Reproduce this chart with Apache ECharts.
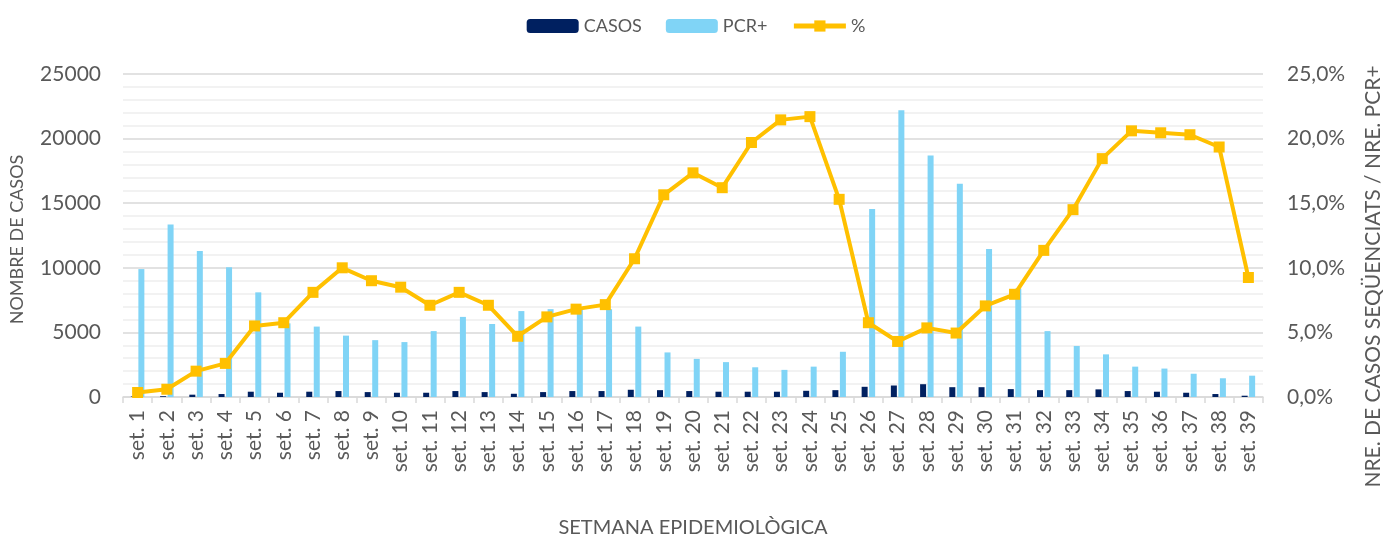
<!DOCTYPE html>
<html>
<head>
<meta charset="utf-8">
<script src="https://cdn.jsdelivr.net/npm/echarts@6/dist/echarts.min.js"></script>
<style>
html, body { margin: 0; padding: 0; background: #fff; }
#chart { width: 1392px; height: 543px; }
</style>
</head>
<body>
<div id="chart"></div>
<script>
// setmanes
var weeks = [];
for (var i = 1; i <= 39; i++) weeks.push('set. ' + i);

var casos = [40, 60, 180, 230, 410, 330, 410, 460, 380, 330, 330, 460, 380, 250, 380, 460, 460, 560, 530, 460,
	410, 410, 410, 480, 530, 790, 890, 990, 760, 760, 610, 530, 530, 590, 460, 410, 330, 230, 100];

var pcr = [9900, 13350, 11300, 10050, 8100, 5700, 5450, 4750, 4400, 4250, 5100, 6200, 5650, 6650, 6800, 6900, 6800, 5450, 3450, 2950,
	2700, 2300, 2100, 2350, 3500, 14550, 22200, 18700, 16500, 11450, 8400, 5100, 3950, 3300, 2350, 2200, 1800, 1450, 1650];

var pct = [0.35, 0.6, 2.0, 2.6, 5.5, 5.75, 8.1, 10.0, 9.0, 8.5, 7.1, 8.1, 7.1, 4.7, 6.2, 6.8, 7.15, 10.7, 15.65, 17.35,
	16.2, 19.7, 21.45, 21.7, 15.3, 5.75, 4.3, 5.35, 4.95, 7.05, 7.95, 11.35, 14.5, 18.45, 20.6, 20.45, 20.3, 19.35, 9.25];

var txt = '#595959';
var font = 'Lato, "Open Sans", sans-serif';

var chart = echarts.init(document.getElementById('chart'));
var option = {
	animation: false,
	textStyle: { fontFamily: font, color: txt },
	legend: {
		top: 12,
		left: 'center',
		itemWidth: 52,
		itemHeight: 14,
		itemGap: 24,
		textStyle: { fontSize: 18, color: txt, fontFamily: font },
		data: ['CASOS', 'PCR+', { name: '%', lineStyle: { width: 5 } }]
	},
	grid: { left: 122, right: 126, top: 74, bottom: 142 },
	xAxis: {
		type: 'category',
		data: weeks,
		name: 'SETMANA EPIDEMIOLÒGICA',
		nameLocation: 'middle',
		nameGap: 121,
		nameTextStyle: { fontSize: 20, color: txt },
		axisLine: { lineStyle: { color: '#d9d9d9', width: 1.5 } },
		axisTick: { show: true, length: 6, lineStyle: { color: '#d9d9d9', width: 1.5 } },
		axisLabel: { rotate: 90, fontSize: 21, color: txt, margin: 13, interval: 0 }
	},
	yAxis: [{
		type: 'value',
		min: 0,
		max: 25000,
		interval: 5000,
		name: 'NOMBRE DE CASOS',
		nameLocation: 'middle',
		nameRotate: 90,
		nameGap: 97,
		nameTextStyle: { fontSize: 18, color: txt, padding: [0, 8, 0, 0] },
		axisLine: { show: false },
		axisTick: { show: false },
		axisLabel: { fontSize: 21, color: txt, margin: 22, formatter: function(v) { return String(v); } },
		splitLine: { lineStyle: { color: '#d9d9d9', width: 1.5 } },
		minorTick: { show: false, splitNumber: 5 },
		minorSplitLine: { show: true, lineStyle: { color: '#eeeeee', width: 1.5 } }
	}, {
		type: 'value',
		min: 0,
		max: 25,
		interval: 5,
		name: 'NRE. DE CASOS SEQÜENCIATS / NRE. PCR+',
		nameLocation: 'middle',
		nameRotate: 90,
		nameGap: 100,
		nameTextStyle: { fontSize: 21, color: txt, padding: [0, 82, 0, 0] },
		axisLine: { show: false },
		axisTick: { show: false },
		splitLine: { show: false },
		axisLabel: {
			fontSize: 21, color: txt, margin: 24,
			formatter: function(v) { return v.toFixed(1).replace('.', ',') + '%'; }
		}
	}],
	series: [{
		name: 'CASOS',
		type: 'bar',
		data: casos,
		barWidth: 6,
		barGap: '25%',
		itemStyle: { color: '#002060' }
	}, {
		name: 'PCR+',
		type: 'bar',
		data: pcr,
		barWidth: 6,
		itemStyle: { color: '#80d4f6' }
	}, {
		name: '%',
		type: 'line',
		yAxisIndex: 1,
		data: pct,
		symbol: 'rect',
		symbolSize: 11,
		z: 5,
		lineStyle: { color: '#ffc000', width: 4 },
		itemStyle: { color: '#ffc000' }
	}]
};
chart.setOption(option);
</script>
</body>
</html>
